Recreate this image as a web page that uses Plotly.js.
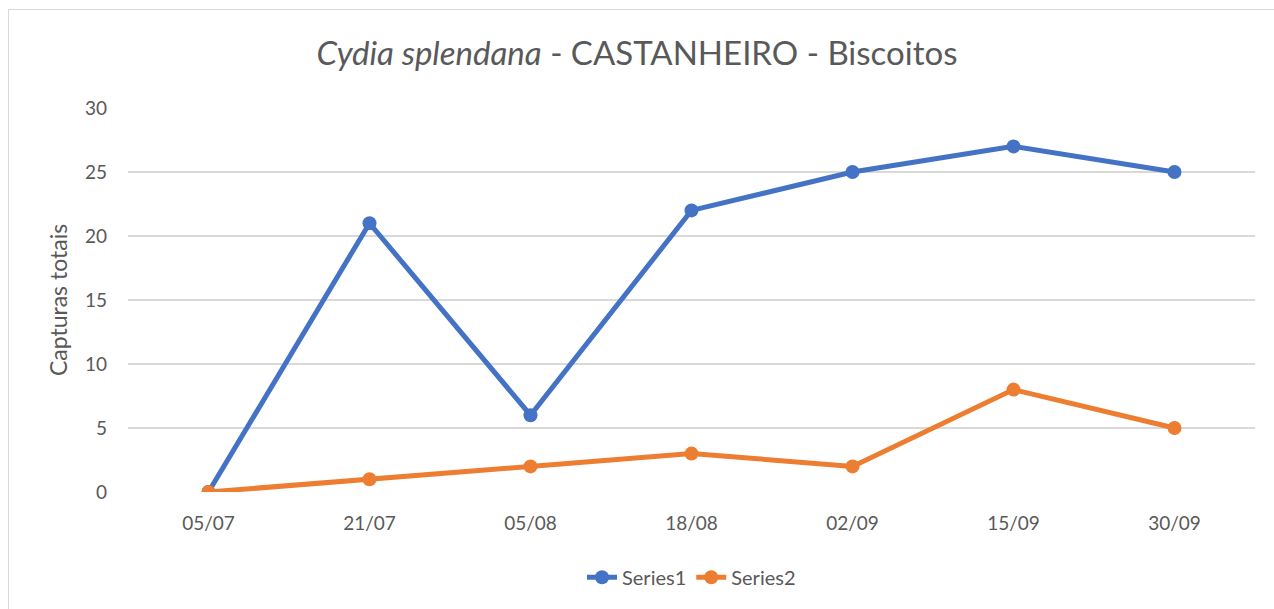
<!DOCTYPE html>
<html><head><meta charset="utf-8">
<script src="https://cdn.plot.ly/plotly-3.0.1.min.js"></script>
<style>
html,body{margin:0;padding:0;background:#fff;}
#chart{width:1274px;height:609px;}
#frame{position:absolute;left:8px;top:9px;width:1400px;height:700px;border-left:1px solid #d9d9d9;border-top:1px solid #d9d9d9;pointer-events:none;}
</style></head>
<body>
<div id="chart"></div>
<div id="frame"></div>
<script>
const categories = ["05/07","21/07","05/08","18/08","02/09","15/09","30/09"];
const series1 = [0,21,6,22,25,27,25];
const series2 = [0,1,2,3,2,8,5];
const yTicks = [0,5,10,15,20,25,30];

const font = "Lato, 'Open Sans', sans-serif";
const grey = "#595959";

const traces = [
  {x: categories, y: series1, name: "Series1", type: "scatter", mode: "lines+markers",
   line: {color: "#4472C4", width: 5}, marker: {color: "#4472C4", size: 14}},
  {x: categories, y: series2, name: "Series2", type: "scatter", mode: "lines+markers",
   line: {color: "#ED7D31", width: 5}, marker: {color: "#ED7D31", size: 14}}
];

const layout = {
  width: 1274, height: 609,
  paper_bgcolor: "rgba(0,0,0,0)", plot_bgcolor: "rgba(0,0,0,0)",
  margin: {l: 128, r: 19, t: 108, b: 117},
  font: {family: font, color: grey, size: 19},
  title: {text: "<i>Cydia splendana</i> - CASTANHEIRO - Biscoitos",
          font: {family: font, size: 33, color: grey}, x: 0.5, xanchor: "center",
          y: 0.913, yanchor: "middle"},
  xaxis: {type: "category", range: [-0.5, 6.5], showgrid: false, zeroline: false,
          showline: false, ticks: "", tickfont: {size: 19, color: grey}, ticklabelstandoff: 18},
  yaxis: {range: [0, 30], tickvals: yTicks, showgrid: true, gridcolor: "#d9d9d9", gridwidth: 1.3,
          zeroline: false, showline: false, ticks: "", tickfont: {size: 19, color: grey},
          ticklabelstandoff: 20,
          title: {text: "Capturas totais", font: {size: 23, color: grey}, standoff: 10}},
  showlegend: true,
  legend: {orientation: "h", x: 0.5, xanchor: "center", y: -0.222, yanchor: "middle",
           font: {size: 20, color: grey}},
};
Plotly.newPlot("chart", traces, layout, {displayModeBar: false, staticPlot: true});
</script>
</body></html>
